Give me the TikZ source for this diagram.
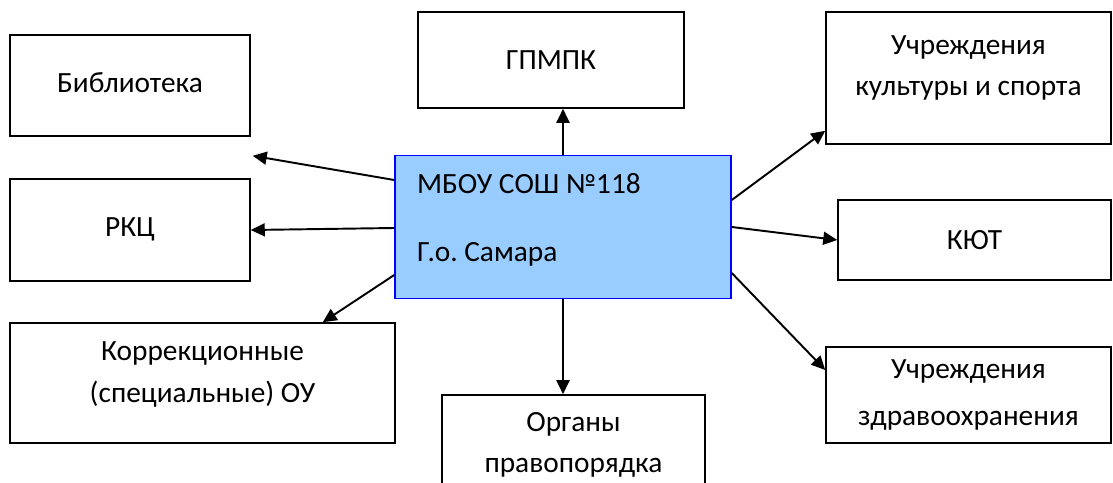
\documentclass[tikz,border=0pt]{standalone}
\usepackage{fontspec}
\setmainfont{Carlito}
\usetikzlibrary{arrows.meta,calc}
\definecolor{skyfill}{HTML}{99CCFF}
\definecolor{edgeblue}{HTML}{0000FF}

\begin{document}
\frenchspacing
\begin{tikzpicture}[
    x=0.02cm, y=-0.02cm,
    partner/.style={
        draw=black,
        line width=0.9pt,
        inner sep=0pt,
        align=center,
        font=\fontsize{16.7}{23.5}\selectfont,
    },
    link/.style={line width=1.1pt, -{Triangle[length=0.28cm, width=0.26cm]}},
]
\useasboundingbox (0,0) rectangle (1113,483);

\node[partner, fill=skyfill, draw=edgeblue, minimum width=6.72cm, minimum height=2.86cm, text width=5.84cm, align=flush left] (mbou) at (563,227) {МБОУ СОШ №118\\[15pt]Г.о. Самара\\[-13pt]\mbox{}};

\node[partner, minimum width=4.8cm, minimum height=2.02cm] (lib) at (130,85.5) {Библиотека\\[-20pt]\mbox{}};
\node[partner, minimum width=4.8cm, minimum height=2.04cm] (rkc) at (130,230) {РКЦ\\[-20pt]\mbox{}};
\node[partner, minimum width=7.7cm, minimum height=2.4cm] (korr) at (202.5,383) {Коррекционные\\(специальные) ОУ\\[-11pt]\mbox{}};
\node[partner, minimum width=5.32cm, minimum height=1.92cm] (gpmpk) at (551,60) {ГПМПК};
\node[partner, minimum width=5.26cm, minimum height=2.0cm] (organy) at (573.5,445) {Органы\\правопорядка};
\node[partner, minimum width=5.7cm, minimum height=2.64cm] (kult) at (968.5,78) {Учреждения\\культуры и спорта\\[-9pt]\mbox{}};
\node[partner, minimum width=5.46cm, minimum height=1.6cm] (kyut) at (974.5,240) {КЮТ};
\node[partner, minimum width=5.7cm, minimum height=1.92cm] (zdrav) at (968.5,395) {Учреждения\\[3pt]здравоохранения};

% links from the school
\draw[link] ($(mbou.west)+(0,-47)$) -- ($(lib.south east)+(2,19)$);
\draw[link] ($(mbou.west)+(0,1)$) -- (rkc.east);
\draw[link] ($(mbou.west)+(0,48)$) -- ($(korr.north east)+(-73,0)$);
\draw[link] (mbou.north) -- (mbou.north |- gpmpk.south);
\draw[link] (mbou.south) -- (mbou.south |- organy.north);
\draw[link] ($(mbou.east)+(0,-27)$) -- ($(kult.south west)+(0,-14)$);
\draw[link] (mbou.east) -- (kyut.west);
\draw[link] ($(mbou.east)+(0,46)$) -- ($(zdrav.west)+(0,-25)$);

\end{tikzpicture}
\end{document}
